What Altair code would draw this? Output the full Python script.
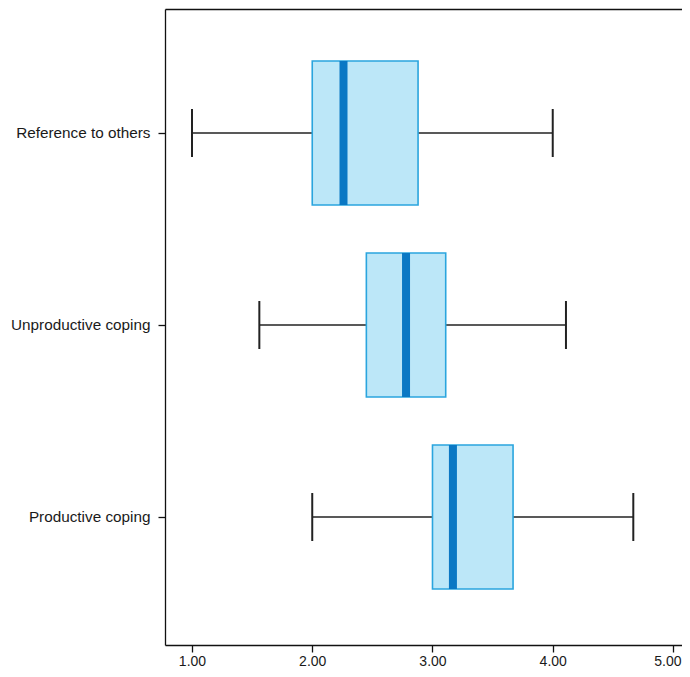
import altair as alt
import pandas as pd

categories = ["Reference to others", "Unproductive coping", "Productive coping"]
whisker_low = [1.00, 1.56, 2.00]
q1 = [2.00, 2.45, 3.00]
median = [2.26, 2.78, 3.17]
q3 = [2.88, 3.11, 3.67]
whisker_high = [4.00, 4.11, 4.67]
tick_values = [1, 2, 3, 4, 5]

df = pd.DataFrame({
    "cat": categories,
    "lo": whisker_low,
    "q1": q1,
    "med": median,
    "q3": q3,
    "hi": whisker_high,
})

FONT = "Liberation Sans"
xscale = alt.Scale(domain=[0.7755, 5.075], nice=False, zero=False)
yenc = alt.Y(
    "cat:N",
    sort=categories,
    title=None,
    scale=alt.Scale(paddingInner=0, paddingOuter=0.15625, align=0.467),
    axis=alt.Axis(
        domain=True, domainColor="#111", domainWidth=1.3,
        ticks=True, tickColor="#111", tickSize=7, tickWidth=1.3,
        labelFont=FONT, labelFontSize=15.3, labelColor="#1a1a1a",
        labelPadding=8, grid=False,
    ),
)

base = alt.Chart(df)

whisker = base.mark_rule(color="#222", strokeWidth=1.4).encode(
    x=alt.X("lo:Q", scale=xscale, title=None,
            axis=alt.Axis(values=tick_values, format=".2f", orient="bottom",
                          domain=True, domainColor="#111", domainWidth=1.3,
                          ticks=True, tickColor="#111", tickSize=7, tickWidth=1.3,
                          labelFont=FONT, labelFontSize=14, labelColor="#1a1a1a",
                          labelPadding=2, labelFlush=12, labelFlushOffset=8,
                          grid=False)),
    x2="hi:Q",
    y=yenc,
)

cap_lo = base.mark_tick(color="#222", size=48, thickness=2, opacity=1).encode(
    x=alt.X("lo:Q", scale=xscale, axis=None), y=yenc)
cap_hi = base.mark_tick(color="#222", size=48, thickness=2, opacity=1).encode(
    x=alt.X("hi:Q", scale=xscale, axis=None), y=yenc)

box = base.mark_bar(size=144, fill="#bce7f8", stroke="#2aa5de", strokeWidth=1.6,
                    opacity=1).encode(
    x=alt.X("q1:Q", scale=xscale, title=None,
            axis=alt.Axis(orient="top", labels=False, ticks=False, domain=True,
                          domainColor="#111", domainWidth=1.3, grid=False)),
    x2="q3:Q",
    y=yenc,
)

med = base.mark_tick(color="#0a78c4", size=144, thickness=8, opacity=1).encode(
    x=alt.X("med:Q", scale=xscale, axis=None), y=yenc)

chart = (
    alt.layer(whisker, cap_lo, cap_hi, box, med)
    .resolve_axis(x="independent")
    .properties(
        width=517, height=636,
        autosize=alt.AutoSizeParams(type="none"),
        padding={"left": 157, "top": 1, "right": 0, "bottom": 23},
        background="white",
    )
    .configure_view(strokeWidth=0)
)

chart.save("out.html", embed_options={"renderer": "svg", "actions": False})
